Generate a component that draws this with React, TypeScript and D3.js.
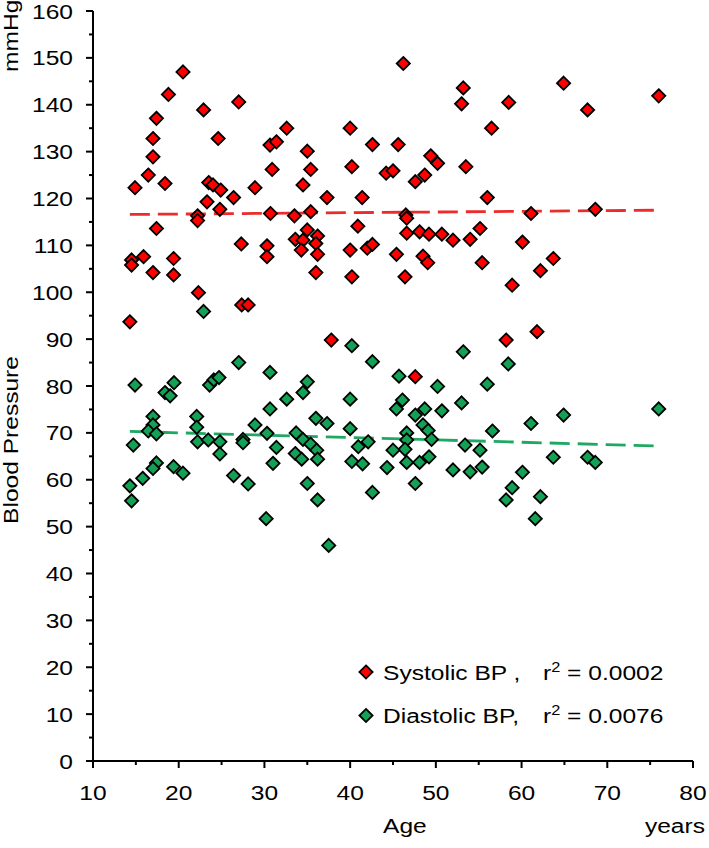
import React from "react";
import * as d3 from "d3";

const systolic: [number, number][] = [
  [20.5,147.0],[18.8,142.2],[17.4,137.1],[17.0,132.8],[17.0,128.9],[16.45,125.0],[14.9,122.3],[18.4,123.2],[22.9,138.9],[24.6,132.8],
  [27.0,140.6],[23.5,123.4],[24.0,122.9],[24.9,121.8],[23.3,119.3],[24.8,117.7],[26.4,120.2],[28.9,122.3],[22.2,116.3],[22.2,115.3],
  [30.65,131.4],[31.4,132.1],[30.9,126.2],[30.7,116.8],[17.4,113.6],[27.3,110.3],[30.3,109.9],[30.3,107.6],[14.5,106.9],[14.5,105.8],
  [15.9,107.6],[19.4,107.2],[17.0,104.2],[19.4,103.7],[22.3,99.9],[27.35,97.3],[28.1,97.3],[14.3,93.7],
  [46.2,148.8],[53.2,143.6],[53.0,140.2],[32.6,135.0],[40.0,135.0],[35.0,130.1],[42.6,131.5],[45.6,131.5],[35.4,126.2],[40.2,126.8],
  [44.2,125.4],[45.0,125.9],[49.4,129.1],[50.2,127.5],[53.5,126.8],[47.6,123.6],[48.7,125.0],[34.5,122.9],[37.3,120.2],[41.4,120.2],
  [56.0,120.2],[33.5,116.3],[35.4,117.2],[46.5,116.5],[46.6,115.8],[40.9,114.1],[35.0,113.3],[33.6,111.3],[34.5,111.1],[36.2,112.0],
  [36.0,110.4],[34.3,109.0],[36.2,108.1],[36.0,104.2],[40.0,109.0],[42.0,109.4],[42.6,110.2],[45.4,108.1],[40.2,103.3],[46.4,103.3],
  [46.6,112.6],[48.1,112.9],[49.2,112.4],[50.7,112.4],[52.0,111.1],[54.0,111.3],[48.5,107.7],[49.05,106.3],[55.15,113.6],[55.4,106.3],
  [56.5,135.0],
  [58.5,140.5],[64.9,144.6],[67.7,138.9],[76.0,141.9],[61.1,116.8],[68.6,117.7],[60.1,110.7],[63.7,107.2],[62.2,104.6],[58.9,101.5],
  [58.2,89.8],[61.8,91.6],[37.8,89.8],[47.6,82.0],
];

const diastolic: [number, number][] = [
  [22.9,95.9],[14.9,80.2],[27.0,85.0],[30.65,82.9],[18.4,78.6],[19.0,77.9],[19.45,80.7],[23.6,80.2],[24.1,81.3],[24.7,81.8],
  [30.65,75.1],[17.0,73.5],[17.0,71.7],[16.45,70.4],[17.4,69.8],[22.1,73.5],[22.1,71.2],[22.2,68.1],[23.45,68.5],[24.8,68.1],
  [24.8,65.5],[27.5,68.6],[27.5,67.9],[28.9,71.7],[30.3,69.9],[31.4,66.9],[31.0,63.5],[14.7,67.4],[17.4,63.6],[17.0,62.4],
  [19.4,62.8],[20.5,61.4],[15.8,60.3],[14.3,58.7],[26.4,60.9],[28.1,59.1],[14.5,55.5],
  [40.2,88.6],[42.6,85.2],[53.2,87.3],[35.0,80.9],[34.5,78.6],[32.6,77.2],[40.0,77.2],[45.7,82.1],[50.2,79.9],[56.0,80.4],
  [53.0,76.4],[46.1,77.0],[45.4,75.1],[48.7,75.1],[50.7,74.7],[47.6,73.8],[36.0,73.1],[37.3,72.0],[33.7,70.0],[34.5,68.6],
  [35.4,67.6],[36.1,66.3],[40.0,70.9],[40.95,67.05],[42.1,68.1],[46.6,70.0],[46.6,68.5],[46.4,66.5],[45.0,66.3],[48.5,71.7],
  [49.1,70.5],[49.5,68.6],[33.6,65.6],[34.35,64.4],[36.2,64.4],[40.2,63.9],[41.45,63.4],[44.3,62.6],[46.6,63.7],[48.1,63.7],
  [49.2,64.9],[52.0,62.1],[54.0,61.7],[55.4,62.7],[55.15,66.3],[53.4,67.4],[35.0,59.2],[42.6,57.3],[47.6,59.2],[36.2,55.7],
  [58.45,84.7],[76.0,75.1],[64.9,73.8],[61.1,72.0],[56.6,70.4],[63.7,64.8],[67.7,64.8],[68.6,63.7],[60.1,61.6],[58.9,58.3],
  [62.2,56.4],[58.2,55.7],[30.2,51.7],[37.5,46.0],[61.6,51.7],
];

const systolicTrend: [number, number][] = [[14.3, 116.6], [76.0, 117.5]];
const diastolicTrend: [number, number][] = [[14.3, 70.3], [76.0, 67.2]];

const xTicks = [10, 20, 30, 40, 50, 60, 70, 80];
const xMinor = [15, 25, 35, 45, 55, 65, 75];
const yTicks = [0, 10, 20, 30, 40, 50, 60, 70, 80, 90, 100, 110, 120, 130, 140, 150, 160];
const yMinor = [5, 15, 25, 35, 45, 55, 65, 75, 85, 95, 105, 115, 125, 135, 145, 155];

const legendItems = [
  { label: "Systolic BP ,", r2: "0.0002", fill: "#ff0000" },
  { label: "Diastolic BP,", r2: "0.0076", fill: "#13a155" },
];

const W = 709, H = 848;
const FONT = "'Liberation Sans', Arial, sans-serif";
const FS = 21;
const SX = 1.17;

export default function App() {
  const x = d3.scaleLinear().domain([10, 80]).range([93, 693]);
  const y = d3.scaleLinear().domain([0, 160]).range([761, 11]);
  const line = d3.line<[number, number]>().x(d => x(d[0])).y(d => y(d[1]));
  const half = 6.6;
  const diamond = `M0,${-half}L${half},0L0,${half}L${-half},0Z`;

  const T = (props: { x: number; y: number; anchor?: string; rotate?: number; children: React.ReactNode }) => (
    <text
      transform={`translate(${props.x},${props.y}) rotate(${props.rotate || 0}) scale(${SX},1)`}
      textAnchor={props.anchor || "start"}
      fontFamily={FONT}
      fontSize={FS}
      fill="#000"
    >
      {props.children}
    </text>
  );

  return (
    <svg width={W} height={H} style={{ position: "absolute", left: 0, top: 0, background: "#fff" }}>
      <rect width={W} height={H} fill="#fff" />
      {/* axes */}
      <line x1={93} x2={93} y1={y(160)} y2={y(0)} stroke="#000" strokeWidth={2} />
      <line x1={93} x2={x(80)} y1={761} y2={761} stroke="#000" strokeWidth={2} />
      {yTicks.map(t => (
        <line key={"ym" + t} x1={86} x2={93} y1={y(t)} y2={y(t)} stroke="#000" strokeWidth={2} />
      ))}
      {yMinor.map(t => (
        <line key={"yn" + t} x1={89} x2={93} y1={y(t)} y2={y(t)} stroke="#000" strokeWidth={2} />
      ))}
      {xTicks.map(t => (
        <line key={"xm" + t} x1={x(t)} x2={x(t)} y1={761} y2={768} stroke="#000" strokeWidth={2} />
      ))}
      {xMinor.map(t => (
        <line key={"xn" + t} x1={x(t)} x2={x(t)} y1={761} y2={765} stroke="#000" strokeWidth={2} />
      ))}
      {yTicks.map(t => (
        <T key={"yl" + t} x={73} y={y(t) + 7.5} anchor="end">{t}</T>
      ))}
      {xTicks.map(t => (
        <T key={"xl" + t} x={x(t)} y={800} anchor="middle">{t}</T>
      ))}
      <T x={383} y={833}>Age</T>
      <T x={705} y={833} anchor="end">years</T>
      <T x={18} y={72} rotate={-90}>mmHg</T>
      <T x={18} y={440} rotate={-90} anchor="middle">Blood Pressure</T>

      {/* trend lines */}
      <path d={line(systolicTrend) || ""} fill="none" stroke="#ec2b2b" strokeWidth={2.8} strokeDasharray="20 8" />
      <path d={line(diastolicTrend) || ""} fill="none" stroke="#1fa864" strokeWidth={2.8} strokeDasharray="20 8" />

      {/* points */}
      {systolic.map((d, i) => (
        <path key={"s" + i} d={diamond} transform={`translate(${x(d[0])},${y(d[1])})`} fill="#ff0000" stroke="#000" strokeWidth={1.8} />
      ))}
      {diastolic.map((d, i) => (
        <path key={"d" + i} d={diamond} transform={`translate(${x(d[0])},${y(d[1])})`} fill="#13a155" stroke="#000" strokeWidth={1.8} />
      ))}

      {/* legend */}
      {legendItems.map((it, i) => {
        const cy = 672 + i * 43.5;
        return (
          <g key={"lg" + i}>
            <path d={diamond} transform={`translate(366,${cy})`} fill={it.fill} stroke="#000" strokeWidth={1.8} />
            <T x={383} y={cy + 7.5}>{it.label}</T>
            <T x={543} y={cy + 7.5}>
              r<tspan fontSize={14} dy={-8}>2</tspan><tspan dy={8}> = {it.r2}</tspan>
            </T>
          </g>
        );
      })}
    </svg>
  );
}
